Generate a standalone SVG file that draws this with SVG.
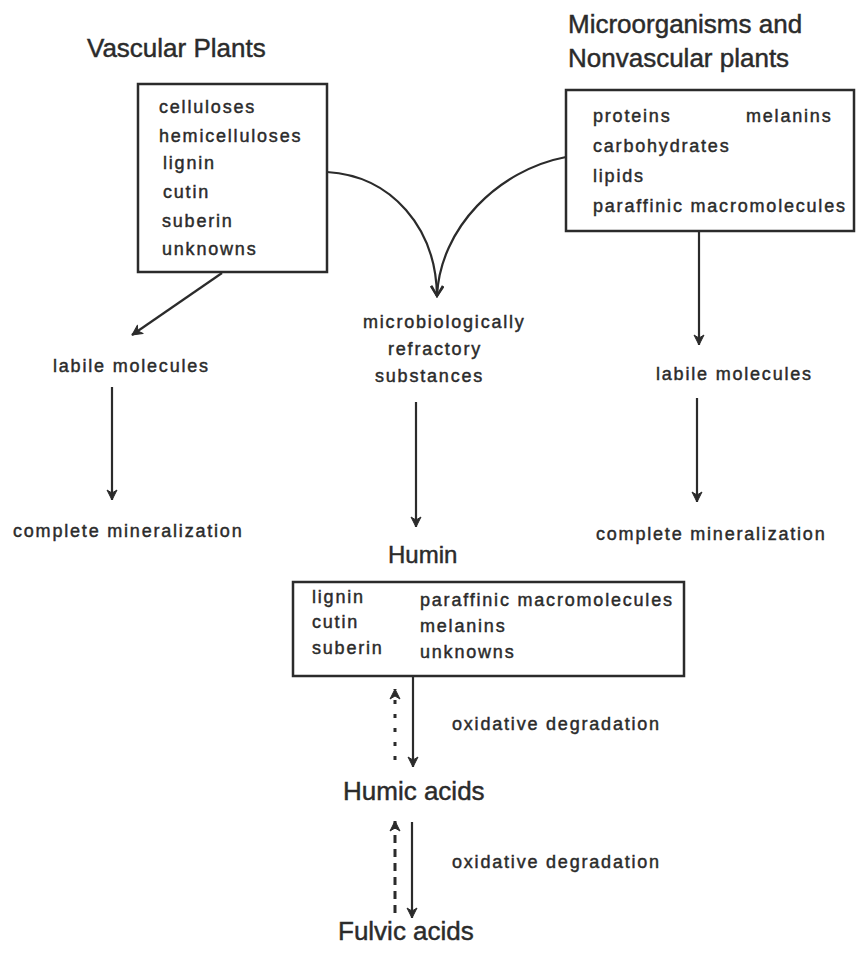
<svg xmlns="http://www.w3.org/2000/svg" width="856" height="961" viewBox="0 0 856 961">
<defs>
<style>
.t{font-family:"Liberation Sans",Arial,sans-serif;fill:#2b2b2b;stroke:#2b2b2b;stroke-width:0.45}
.title{font-size:26px}
.s{font-size:18px;letter-spacing:1.8px}
.box{fill:none;stroke:#2b2b2b;stroke-width:2.5}
.ln{fill:none;stroke:#2b2b2b;stroke-width:2.2}
.dot{stroke-width:3}
</style>
<marker id="ah" markerUnits="userSpaceOnUse" viewBox="0 0 12 12" refX="11" refY="6" markerWidth="12" markerHeight="12" orient="auto">
<path d="M1,1 L11,6 L1,11 L4,6 z" fill="#2b2b2b" stroke="#2b2b2b" stroke-width="1" stroke-linejoin="round"/>
</marker>
<marker id="av" markerUnits="userSpaceOnUse" viewBox="0 0 14 14" refX="12" refY="7" markerWidth="14" markerHeight="14" orient="auto">
<path d="M2,1 L12,7 L2,13" fill="none" stroke="#2b2b2b" stroke-width="2.2"/>
</marker>
</defs>
<rect width="856" height="961" fill="#ffffff"/>

<g id="vascular">
<text class="t title" x="87" y="57">Vascular Plants</text>
<rect class="box" x="138" y="84" width="189" height="188"/>
<text class="t s" x="159" y="113">celluloses</text>
<text class="t s" x="159" y="142">hemicelluloses</text>
<text class="t s" x="163" y="169">lignin</text>
<text class="t s" x="163" y="198">cutin</text>
<text class="t s" x="162" y="227">suberin</text>
<text class="t s" x="162" y="255">unknowns</text>
</g>

<g id="micro">
<text class="t title" x="568" y="33">Microorganisms and</text>
<text class="t title" x="568" y="67">Nonvascular plants</text>
<rect class="box" x="566" y="90" width="288" height="141"/>
<text class="t s" x="593" y="122">proteins</text>
<text class="t s" x="746" y="122">melanins</text>
<text class="t s" x="593" y="152">carbohydrates</text>
<text class="t s" x="593" y="182">lipids</text>
<text class="t s" x="593" y="212">paraffinic macromolecules</text>
</g>

<g id="labile-left">
<text class="t s" x="53" y="372">labile molecules</text>
</g>
<g id="mineral-left">
<text class="t s" x="13" y="537">complete mineralization</text>
</g>
<g id="refractory">
<text class="t s" x="363" y="328">microbiologically</text>
<text class="t s" x="388" y="355">refractory</text>
<text class="t s" x="375" y="382">substances</text>
</g>
<g id="labile-right">
<text class="t s" x="656" y="380">labile molecules</text>
</g>
<g id="mineral-right">
<text class="t s" x="596" y="540">complete mineralization</text>
</g>

<g id="humin">
<text class="t" style="font-size:24px" x="388" y="563">Humin</text>
<rect class="box" x="293" y="582" width="391" height="94"/>
<text class="t s" x="312" y="603">lignin</text>
<text class="t s" x="312" y="628">cutin</text>
<text class="t s" x="312" y="654">suberin</text>
<text class="t s" x="420" y="606">paraffinic macromolecules</text>
<text class="t s" x="420" y="632">melanins</text>
<text class="t s" x="420" y="658">unknowns</text>
</g>

<g id="humic">
<text class="t title" x="343" y="800">Humic acids</text>
</g>
<g id="fulvic">
<text class="t title" x="338" y="940">Fulvic acids</text>
</g>

<g id="connectors">
<path class="ln" d="M327,172 C392,176 436,228 437,296" marker-end="url(#av)"/>
<path class="ln" d="M566,157 C498,170 440,228 437,296" marker-end="url(#av)"/>
<line class="ln" x1="222" y1="273" x2="132" y2="335" marker-end="url(#ah)"/>
<line class="ln" x1="699" y1="231" x2="699" y2="345" marker-end="url(#ah)"/>
<line class="ln" x1="112" y1="387" x2="112" y2="500" marker-end="url(#ah)"/>
<line class="ln" x1="697" y1="398" x2="697" y2="502" marker-end="url(#ah)"/>
<line class="ln" x1="416" y1="402" x2="416" y2="527" marker-end="url(#ah)"/>
<line class="ln" x1="413" y1="676" x2="413" y2="767" marker-end="url(#ah)"/>
<line class="ln dot" x1="395" y1="760" x2="395" y2="689" stroke-dasharray="4 10" marker-end="url(#ah)"/>
<text class="t s" x="452" y="730">oxidative degradation</text>
<line class="ln" x1="412" y1="822" x2="412" y2="918" marker-end="url(#ah)"/>
<line class="ln dot" x1="395" y1="913" x2="395" y2="821" stroke-dasharray="8 6" marker-end="url(#ah)"/>
<text class="t s" x="452" y="868">oxidative degradation</text>
</g>
</svg>
